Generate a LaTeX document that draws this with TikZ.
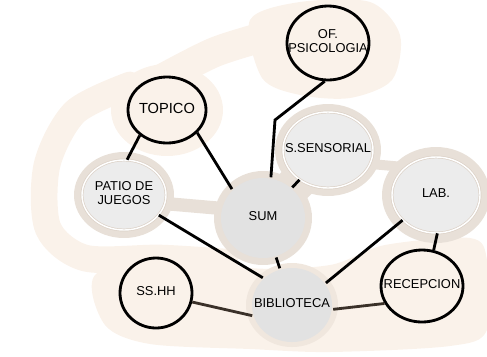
\documentclass[tikz,border=0pt]{standalone}
\usepackage{fontspec}
\setmainfont{Liberation Sans}
\usetikzlibrary{shapes.geometric}
\definecolor{beige}{HTML}{FAF2EA}
\definecolor{halo}{HTML}{E8E0D8}
\definecolor{pale}{HTML}{F0E7DE}
\definecolor{disc}{HTML}{ECECEC}
\definecolor{core}{HTML}{E2E2E2}
\definecolor{ringc}{HTML}{DCD2C8}
\definecolor{wire}{HTML}{3A3129}
\newcommand{\lbl}[1]{\makebox[0pt]{\begin{tabular}{@{}c@{}}#1\end{tabular}}}

\begin{document}
\begin{tikzpicture}[x=0.03cm,y=-0.03cm,line width=2.4pt,
  room/.style={ellipse,draw,fill=beige,inner sep=0pt,font=\fontsize{11}{12}\selectfont},
  area/.style={ellipse,fill=disc,draw=ringc,line width=0.6pt,double=white,double distance=1.2pt,inner sep=0pt,font=\fontsize{11}{12}\selectfont},
  hub/.style={ellipse,fill=core,inner sep=0pt,font=\fontsize{11}{12}\selectfont}]
 \useasboundingbox (0,0) rectangle (487,356);
 % beige ground
 \fill[beige] plot[smooth cycle] coordinates {(250,20) (300,2) (370,2) (400,35) (392,80) (350,98) (300,95) (262,78)};
 \draw[beige,line width=0.9cm,line cap=round] plot[smooth] coordinates {(160,80) (215,52) (270,35)};
 \fill[beige] (167,110) ellipse[x radius=56, y radius=46];
 \draw[beige,line width=0.8cm,line cap=round] plot[smooth] coordinates {(130,85) (75,112) (47,165) (48,228) (85,258) (160,258) (225,262)};
 \fill[beige] plot[smooth cycle] coordinates {(95,275) (170,250) (250,268) (330,265) (385,245) (470,238) (487,260) (487,330) (450,346) (330,352) (250,349) (150,344) (105,325)};
 % halos
 \draw[halo,line width=0.4cm] (124,200) -- (263,212);
 \draw[halo,line width=1.1cm] (263,218) -- (328,150);
 \draw[halo,line width=0.3cm] (328,160) -- (436,170);
 \fill[pale] (292,305) ellipse[x radius=46, y radius=42];
 \foreach \x/\y/\rx/\ry in {124/195/50/43,328/150/53/46,436/195/54/48,263/218/49/47}{%
   \fill[halo] (\x,\y) ellipse[x radius=\rx, y radius=\ry];
 }
 % rooms
 \node[area,minimum width=2.52cm,minimum height=2.1cm] (patio) at (124,195) {\lbl{PATIO DE\\JUEGOS}};
 \node[area,minimum width=2.7cm,minimum height=2.28cm] (sens) at (328,150) {\lbl{S.SENSORIAL}};
 \node[area,minimum width=2.64cm,minimum height=2.28cm] (lab) at (436,195) {\lbl{LAB.}};
 \node[hub,minimum width=2.52cm,minimum height=2.4cm] (sum) at (263,218) {\lbl{SUM}};
 \node[hub,minimum width=2.4cm,minimum height=2.22cm] (biblio) at (292,305) {\lbl{BIBLIOTECA}};
 \node[room,minimum width=2.46cm,minimum height=2.22cm] (psico) at (328,43) {\lbl{OF.\\PSICOLOGIA}};
 \node[room,minimum width=2.34cm,minimum height=1.98cm,font=\fontsize{12.5}{13}\selectfont] (topico) at (167,110) {\lbl{TOPICO}};
 \node[room,minimum width=2.16cm,minimum height=2.1cm] (sshh) at (156,293) {\lbl{SS.HH}};
 \node[room,minimum width=2.46cm,minimum height=2.16cm] (recep) at (422,286) {\lbl{RECEPCION}};
 % links
 \coordinate (kink) at (275,120);
 \draw (psico.-95) -- (kink) -- (sum.79);
 \foreach \a/\b in {topico.223/patio.85,topico.-37/sum.137,sens/sum,patio.-30/biblio.137,sum/biblio,lab.217/biblio.33,lab.-88/recep.72}{%
   \draw (\a) -- (\b);
 }
 \foreach \a/\b in {sshh.-14/biblio.195,recep.205/biblio.-6}{%
   \draw[wire] (\a) -- (\b);
 }
\end{tikzpicture}
\end{document}
